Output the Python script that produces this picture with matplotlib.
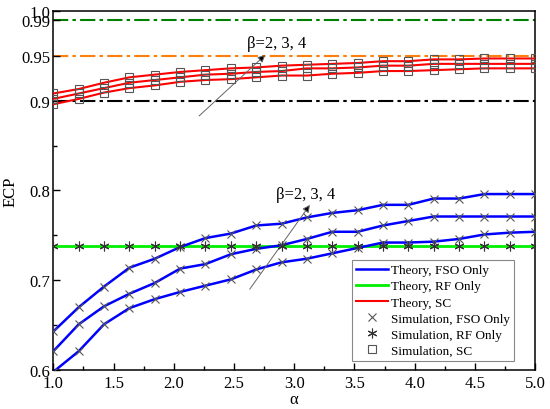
import numpy as np
import matplotlib
matplotlib.use('Agg')
import matplotlib.pyplot as plt
from matplotlib.lines import Line2D

plt.rcParams['font.family'] = ['Liberation Serif', 'DejaVu Serif']
plt.rcParams['lines.scale_dashes'] = False

### data ###
alpha = [1.000, 1.211, 1.421, 1.632, 1.842, 2.053, 2.263, 2.474, 2.684, 2.895,
         3.105, 3.316, 3.526, 3.737, 3.947, 4.158, 4.368, 4.579, 4.789, 5.000]

# FSO only, beta = 2, 3, 4
fso_b2 = [0.598, 0.621, 0.651, 0.669, 0.679, 0.687, 0.694, 0.701, 0.712, 0.720,
          0.724, 0.730, 0.736, 0.742, 0.742, 0.743, 0.746, 0.751, 0.753, 0.754]
fso_b3 = [0.621, 0.651, 0.671, 0.685, 0.697, 0.713, 0.718, 0.729, 0.735, 0.739,
          0.746, 0.754, 0.754, 0.761, 0.766, 0.771, 0.771, 0.771, 0.771, 0.771]
fso_b4 = [0.643, 0.670, 0.693, 0.714, 0.724, 0.737, 0.747, 0.752, 0.761, 0.763,
          0.770, 0.775, 0.778, 0.784, 0.784, 0.791, 0.791, 0.796, 0.796, 0.796]

# RF only
rf_only = [0.738] * 20

# SC, beta = 2, 3, 4
sc_b2 = [0.896, 0.902, 0.909, 0.914, 0.917, 0.921, 0.923, 0.924, 0.926, 0.928,
         0.928, 0.930, 0.931, 0.933, 0.933, 0.934, 0.935, 0.936, 0.936, 0.936]
sc_b3 = [0.902, 0.908, 0.914, 0.920, 0.923, 0.926, 0.929, 0.930, 0.932, 0.933,
         0.936, 0.936, 0.937, 0.939, 0.939, 0.941, 0.941, 0.941, 0.941, 0.941]
sc_b4 = [0.908, 0.913, 0.920, 0.926, 0.929, 0.932, 0.934, 0.936, 0.937, 0.939,
         0.940, 0.941, 0.942, 0.944, 0.944, 0.946, 0.946, 0.947, 0.947, 0.947]

# ECP threshold lines
thresholds = [0.9, 0.95, 0.99]
thr_colors = ['black', '#ff7f0e', '#008000']

yticks = [0.6, 0.7, 0.8, 0.9, 0.95, 0.99, 1.0]
ytick_labels = ['0.6', '0.7', '0.8', '0.9', '0.95', '0.99', '1.0']
xticks = [1.0, 1.5, 2.0, 2.5, 3.0, 3.5, 4.0, 4.5, 5.0]

#######################################################################
fig = plt.figure(figsize=(5.5, 4.1), dpi=100)
ax = fig.add_axes([0.097, 0.095, 0.876, 0.876])

dd = (11, 3, 2.5, 3)
for t, c in zip(thresholds, thr_colors):
    ax.axhline(t, color=c, lw=1.5, dashes=dd, zorder=1)

ax.plot(alpha, rf_only, color='#00ee00', lw=2, zorder=2)

mk_gray = '#555555'
for s in (fso_b2, fso_b3, fso_b4):
    ax.plot(alpha, s, color='#0000ff', lw=1.8, zorder=3)
    ax.plot(alpha, s, ls='none', marker='x', ms=6, mew=0.8, color=mk_gray, zorder=4)

ax.plot(alpha, rf_only, ls='none', marker=(6, 2, 0), ms=7, mew=0.8, color='#333333', zorder=4)

for s in (sc_b2, sc_b3, sc_b4):
    ax.plot(alpha, s, color='#ff0000', lw=1.5, zorder=3)
    ax.plot(alpha, s, ls='none', marker='s', ms=5.5, mew=0.8, mfc='none', mec=mk_gray, zorder=4)

### arrows + labels ###
arr = dict(arrowstyle='-|>', lw=0.7, ec='#666666', fc='black', mutation_scale=11, shrinkA=0, shrinkB=0)
ax.annotate('', xy=(2.76, 0.951), xytext=(2.21, 0.883), arrowprops=arr)
ax.text(2.61, 0.964, 'β=2, 3, 4', fontsize=12, va='center', ha='left')
ax.annotate('', xy=(3.13, 0.784), xytext=(2.63, 0.690), arrowprops=arr)
ax.text(2.85, 0.796, 'β=2, 3, 4', fontsize=12, va='center', ha='left')

### axes ###
ax.set_xlim(1.0, 5.0)
ax.set_ylim(0.6, 1.0)
ax.set_xticks(xticks)
ax.set_xticks([1.25, 1.75, 2.25, 2.75, 3.25, 3.75, 4.25, 4.75], minor=True)
ax.set_yticks(yticks)
ax.set_yticklabels(ytick_labels)
ax.set_yticks([0.65, 0.75, 0.85], minor=True)
ax.tick_params(which='both', direction='in', labelsize=12, top=False, right=False)
ax.tick_params(which='major', length=5, width=1)
ax.tick_params(which='minor', length=3, width=1)
ax.tick_params(axis='y', pad=2)
for sp in ax.spines.values():
    sp.set_linewidth(1.1)
ax.set_xlabel('α', fontsize=12, labelpad=0)
ax.set_ylabel('ECP', fontsize=12, labelpad=2)

handles = [
    Line2D([], [], color='#0000ff', lw=1.8),
    Line2D([], [], color='#00ee00', lw=2),
    Line2D([], [], color='#ff0000', lw=1.5),
    Line2D([], [], ls='none', marker='x', ms=6, mew=0.8, color=mk_gray),
    Line2D([], [], ls='none', marker=(6, 2, 0), ms=7, mew=0.8, color='#333333'),
    Line2D([], [], ls='none', marker='s', ms=5.5, mew=0.8, mfc='none', mec=mk_gray),
]
labels = ['Theory, FSO Only', 'Theory, RF Only', 'Theory, SC',
          'Simulation, FSO Only', 'Simulation, RF Only', 'Simulation, SC']
leg = ax.legend(handles, labels, loc='lower right', bbox_to_anchor=(0.957, 0.025),
                borderaxespad=0, fontsize=9.5, fancybox=False, framealpha=1,
                edgecolor='#888888', labelspacing=0.3, handlelength=2.4,
                handletextpad=0.3, borderpad=0.3)
leg.get_frame().set_linewidth(0.8)

plt.savefig('out.png', dpi=100)
